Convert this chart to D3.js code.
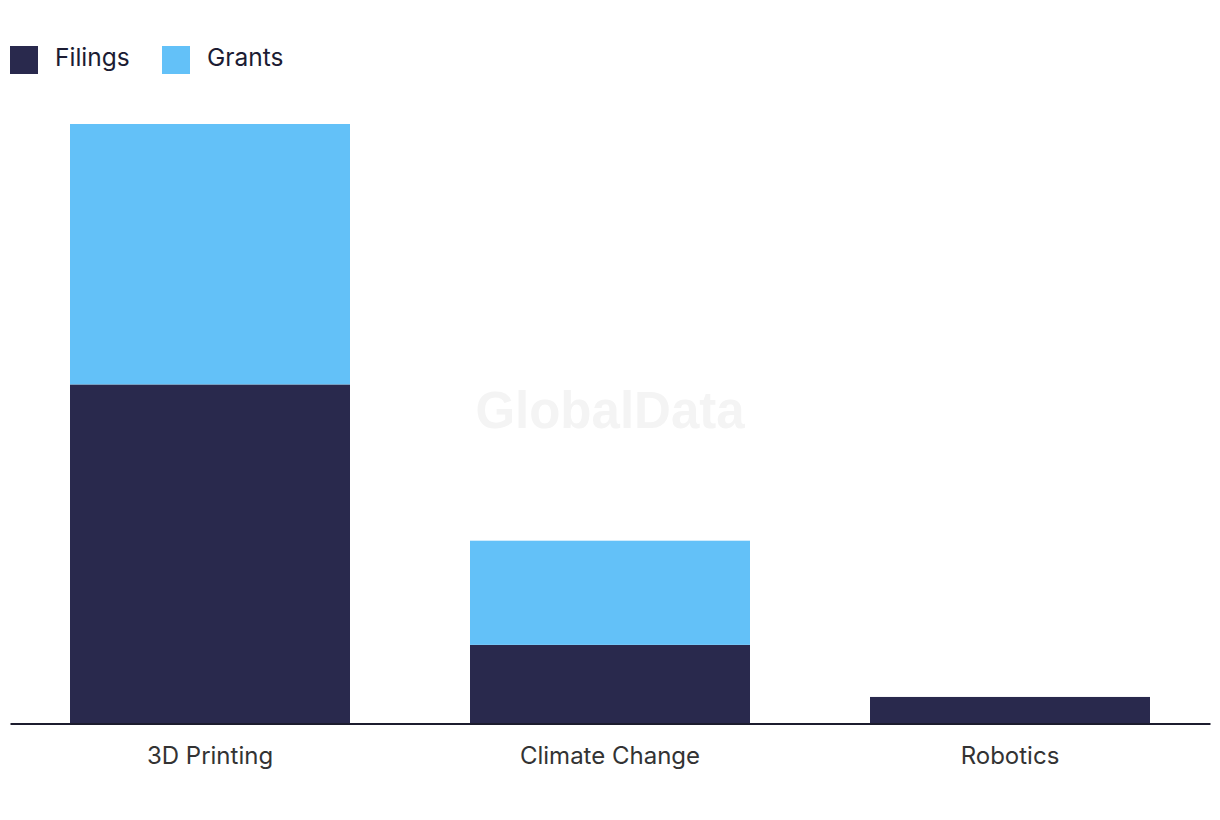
<!DOCTYPE html>
<html>
<head>
<meta charset="utf-8">
<script src="https://cdn.jsdelivr.net/npm/d3@7"></script>
<style>
  body { margin: 0; background: #fff; }
  text { font-family: Inter, "Liberation Sans", sans-serif; }
</style>
</head>
<body>
<div id="chart"></div>
<script>
// chart data
var categories = ["3D Printing", "Climate Change", "Robotics"];
var filings = [65, 15, 5];
var grants = [50, 20, 0];
var seriesNames = ["Filings", "Grants"];
var seriesColors = ["#29294d", "#63c1f8"];

var svgWidth = 1220;
var svgHeight = 820;

var margin = { top: 124, right: 10, bottom: 97, left: 10 };
var width = svgWidth - margin.left - margin.right;
var height = svgHeight - margin.top - margin.bottom;

var svg = d3.select("#chart")
  .append("svg")
  .attr("width", svgWidth)
  .attr("height", svgHeight);

// watermark
svg.append("text")
  .attr("x", 610)
  .attr("y", 428)
  .attr("text-anchor", "middle")
  .style("font-family", "'Liberation Sans', Arial, sans-serif")
  .style("font-weight", "bold")
  .style("font-size", "51px")
  .attr("fill", "#f4f4f4")
  .text("GlobalData");

var chartGroup = svg.append("g")
  .attr("transform", `translate(${margin.left}, ${margin.top})`);

var rows = categories.map(function(c, i) {
  return { category: c, Filings: filings[i], Grants: grants[i] };
});

var stacked = d3.stack().keys(seriesNames)(rows);

var xBandScale = d3.scaleBand()
  .domain(categories)
  .range([0, width])
  .paddingInner(0.3)
  .paddingOuter(0.15);

var yLinearScale = d3.scaleLinear()
  .domain([0, d3.max(rows, d => d.Filings + d.Grants)])
  .range([height, 0]);

var colorScale = d3.scaleOrdinal()
  .domain(seriesNames)
  .range(seriesColors);

// bars
chartGroup.selectAll(".series")
  .data(stacked)
  .enter()
  .append("g")
  .attr("class", "series")
  .attr("fill", d => colorScale(d.key))
  .selectAll("rect")
  .data(d => d)
  .enter()
  .append("rect")
  .attr("x", d => xBandScale(d.data.category))
  .attr("y", d => yLinearScale(d[1]))
  .attr("width", xBandScale.bandwidth())
  .attr("height", d => yLinearScale(d[0]) - yLinearScale(d[1]));

// x axis
var bottomAxis = d3.axisBottom(xBandScale).tickSize(0).tickPadding(23);

var xAxis = chartGroup.append("g")
  .attr("transform", `translate(0, ${height + 0.5})`)
  .call(bottomAxis);

xAxis.select(".domain")
  .attr("stroke", "#1c1c2e")
  .attr("stroke-width", 2);

xAxis.selectAll("text")
  .style("font-size", "24px")
  .attr("fill", "#333");

// legend
var legend = svg.append("g")
  .attr("transform", "translate(10, 46)");

var legendOffsets = [0, 152];

var legendItems = legend.selectAll(".legend-item")
  .data(seriesNames)
  .enter()
  .append("g")
  .attr("class", "legend-item")
  .attr("transform", (d, i) => `translate(${legendOffsets[i]}, 0)`);

legendItems.append("rect")
  .attr("width", 28)
  .attr("height", 28)
  .attr("fill", d => colorScale(d));

legendItems.append("text")
  .attr("x", 45)
  .attr("y", 20)
  .style("font-size", "24.5px")
  .attr("fill", "#1c1c33")
  .text(d => d);
</script>
</body>
</html>
